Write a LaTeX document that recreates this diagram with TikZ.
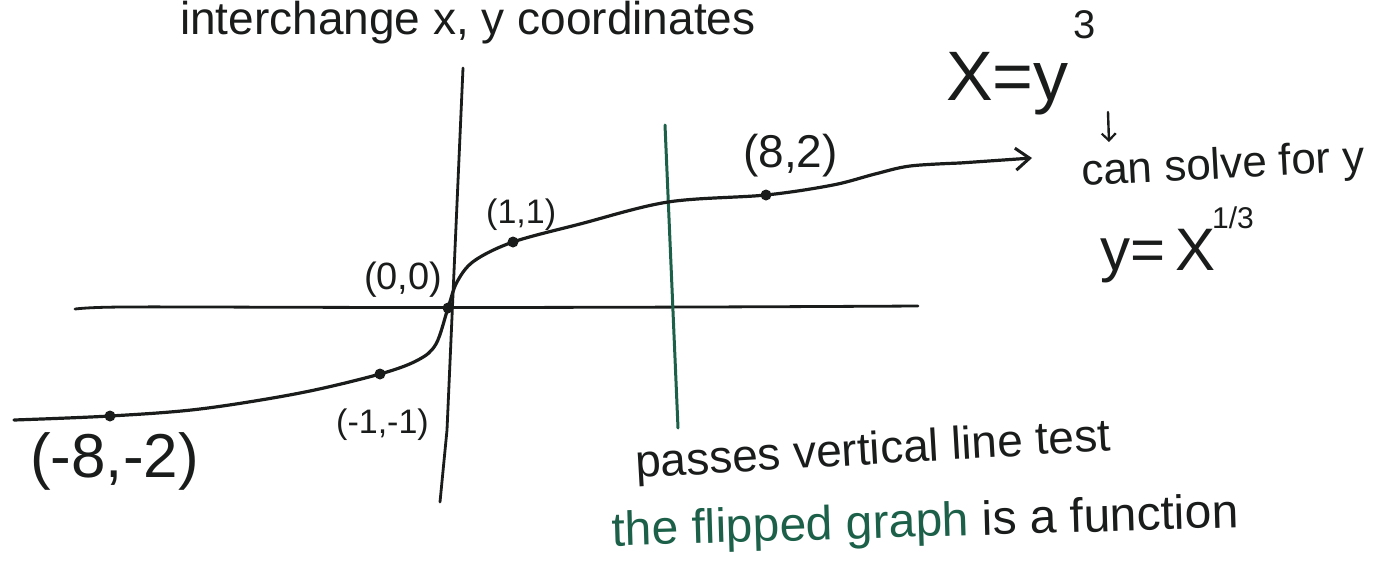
\documentclass[tikz,border=0pt]{standalone}
\usepackage{fontspec}
\setmainfont{Liberation Sans}
\usetikzlibrary{arrows.meta}
\definecolor{ink}{RGB}{26,27,27}
\definecolor{pen}{RGB}{28,96,74}
\tikzset{
  every node/.style={inner sep=0pt, text=ink},
  stroke/.style={draw=ink, line width=3.2pt, line cap=round, line join=round},
  greenline/.style={draw=pen, line width=3pt, line cap=round},
  dot/.style={circle, fill=ink, minimum size=11pt, inner sep=0pt},
  fs/.style={font=\fontsize{#1}{#1}\selectfont},
}
\begin{document}
\begin{tikzpicture}[x=1pt,y=-1pt]
\useasboundingbox (0,0) rectangle (1386,574);

% title
\node[fs=46, anchor=base west] (title) at (180,34) {interchange x, y coordinates};

% axes
\coordinate (xl) at (75,309);
\coordinate (xr) at (918,306);
\coordinate (yt) at (463,68);
\coordinate (ym) at (447,430);
\coordinate (yb) at (440,502);
\draw[stroke, line width=2.8pt] (xl) .. controls (120,304) and (200,310) .. (xr);
\draw[stroke, line width=2.8pt] (yt) -- (ym) -- (yb);

% green vertical line
\coordinate (gt) at (665,125);
\coordinate (gb) at (678,428);
\draw[greenline] (gt) -- (gb);

% points on the curve
\node[dot] (m82) at (110,416) {};
\node[dot] (m11) at (380,374) {};
\node[dot] (o) at (448,308) {};
\node[dot] (p11) at (513,242) {};
\node[dot] (p82) at (766,195) {};
\coordinate (cL) at (14,420);
\coordinate (cR) at (1032,158);

% curve
\draw[stroke] plot[smooth, tension=0.55] coordinates {
  (cL) (m82) (200,409) (300,393) (m11) (418,360) (436,344) (o)
  (457,282) (474,261) (p11) (580,224) (668,202) (p82) (833,185) (875,174) (910,166) (960,163)};
\draw[stroke, -{Straight Barb[length=14pt,width=22pt,line width=3pt]}] (960,163) -- (cR);

% point labels
\node[fs=46, anchor=base west] (l82) at (743,167) {(8,2)};
\node[fs=34, anchor=base west] (l11) at (486,223) {(1,1)};
\node[fs=38, anchor=base west] (l00) at (364,289) {(0,0)};
\node[fs=34, anchor=base west] (lm11) at (336,433) {(-1,-1)};
\node[fs=62, anchor=base west] (lm82) at (30,477) {(-8,-2)};

% equation
\node[fs=70, anchor=base west] (eq) at (946,100) {X=y};
\node[fs=40, anchor=base west] (e3) at (1073,38) {3};
\coordinate (as) at (1108,112);
\coordinate (ae) at (1109,142);
\draw[stroke, line width=2.4pt, -{Straight Barb[length=7pt,width=14pt,line width=2.2pt]}] (as) -- (ae);

\node[fs=44, anchor=base west, rotate=3] (solve) at (1082,186) {can solve for y};
\node[fs=60, anchor=base west] (yeq) at (1100,270) {y=\,X};
\node[fs=30, anchor=base west] (third) at (1212,228) {1/3};

% bottom notes
\node[fs=46, anchor=base west, rotate=3.3] (pass) at (636,478) {passes vertical line test};
\node[fs=48, anchor=base west, rotate=1.7] (flip) at (612,546) {\textcolor{pen}{the flipped graph} is a function};
\end{tikzpicture}
\end{document}
